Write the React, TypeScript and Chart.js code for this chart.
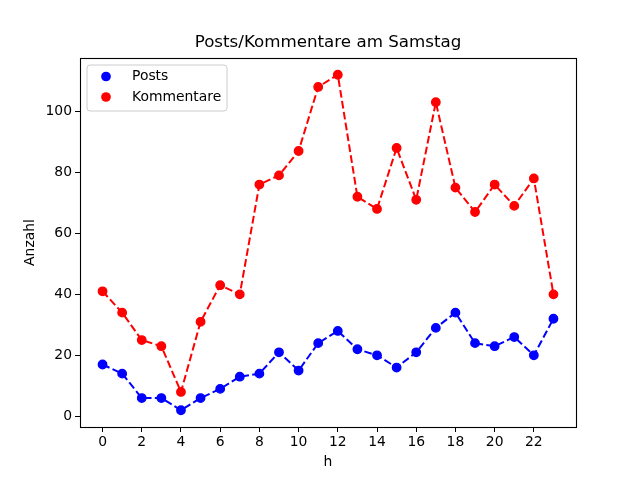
import React, { useEffect, useRef } from "react";
import { Chart, registerables } from "chart.js";

Chart.register(...registerables);

const hours: number[] = [0, 1, 2, 3, 4, 5, 6, 7, 8, 9, 10, 11, 12, 13, 14, 15, 16, 17, 18, 19, 20, 21, 22, 23];
const posts: number[] = [17, 14, 6, 6, 2, 6, 9, 13, 14, 21, 15, 24, 28, 22, 20, 16, 21, 29, 34, 24, 23, 26, 20, 32];
const kommentare: number[] = [41, 34, 25, 23, 8, 31, 43, 40, 76, 79, 87, 108, 112, 72, 68, 88, 71, 103, 75, 67, 76, 69, 78, 40];
const xTicks: number[] = [0, 2, 4, 6, 8, 10, 12, 14, 16, 18, 20, 22];
const yTicks: number[] = [0, 20, 40, 60, 80, 100];

const chartTitle = "Posts/Kommentare am Samstag";
const xLabel = "h";
const yLabel = "Anzahl";
const seriesNames = ["Posts", "Kommentare"];
const seriesColors = ["#0000ff", "#ff0000"];

const FONT = "'DejaVu Sans', sans-serif";

export default function App() {
  const ref = useRef<HTMLCanvasElement | null>(null);

  useEffect(() => {
    if (!ref.current) return;
    const decor = {
      id: "decor",
      beforeDraw(chart: any) {
        const ctx = chart.ctx;
        ctx.save();
        ctx.fillStyle = "#ffffff";
        ctx.fillRect(0, 0, chart.width, chart.height);
        ctx.restore();
      },
      afterDraw(chart: any) {
        const ctx = chart.ctx;
        const a = chart.chartArea;
        ctx.save();
        // frame
        ctx.strokeStyle = "#000000";
        ctx.lineWidth = 1.1;
        ctx.strokeRect(Math.round(a.left) + 0.5, Math.round(a.top) + 0.5, Math.round(a.right - a.left), Math.round(a.bottom - a.top));
        // title
        ctx.fillStyle = "#000000";
        ctx.textAlign = "center";
        ctx.textBaseline = "middle";
        ctx.font = `16.7px ${FONT}`;
        ctx.fillText(chartTitle, (a.left + a.right) / 2, 43);
        // x label
        ctx.font = `13.9px ${FONT}`;
        ctx.fillText(xLabel, (a.left + a.right) / 2, 462);
        // y label
        ctx.save();
        ctx.translate(30, (a.top + a.bottom) / 2);
        ctx.rotate(-Math.PI / 2);
        ctx.fillText(yLabel, 0, 0);
        ctx.restore();
        // legend
        const lx = 87, ly = 65, lw = 140, lh = 46, r = 3;
        ctx.beginPath();
        ctx.moveTo(lx + r, ly);
        ctx.lineTo(lx + lw - r, ly);
        ctx.quadraticCurveTo(lx + lw, ly, lx + lw, ly + r);
        ctx.lineTo(lx + lw, ly + lh - r);
        ctx.quadraticCurveTo(lx + lw, ly + lh, lx + lw - r, ly + lh);
        ctx.lineTo(lx + r, ly + lh);
        ctx.quadraticCurveTo(lx, ly + lh, lx, ly + lh - r);
        ctx.lineTo(lx, ly + r);
        ctx.quadraticCurveTo(lx, ly, lx + r, ly);
        ctx.closePath();
        ctx.fillStyle = "rgba(255,255,255,0.8)";
        ctx.fill();
        ctx.strokeStyle = "#cccccc";
        ctx.lineWidth = 1;
        ctx.stroke();
        const rows = [76.5, 97];
        seriesNames.forEach((name, i) => {
          ctx.beginPath();
          ctx.arc(106, rows[i], 4.85, 0, Math.PI * 2);
          ctx.fillStyle = seriesColors[i];
          ctx.fill();
          ctx.fillStyle = "#000000";
          ctx.textAlign = "left";
          ctx.textBaseline = "middle";
          ctx.font = `13.9px ${FONT}`;
          ctx.fillText(name, 132, rows[i]);
        });
        ctx.restore();
      },
    };

    const mk = (vals: number[], i: number) => ({
      label: seriesNames[i],
      data: hours.map((h, k) => ({ x: h, y: vals[k] })),
      borderColor: seriesColors[i],
      backgroundColor: seriesColors[i],
      pointBackgroundColor: seriesColors[i],
      pointBorderColor: seriesColors[i],
      pointBorderWidth: 1.4,
      pointRadius: 4.2,
      borderWidth: 2,
      borderDash: [7.7, 3.3],
      tension: 0,
      fill: false,
    });

    const chart = new Chart(ref.current, {
      type: "line",
      data: { datasets: [mk(posts, 0), mk(kommentare, 1)] },
      options: {
        animation: false,
        responsive: false,
        devicePixelRatio: 1,
        layout: { padding: { top: 58, right: 64, left: 0, bottom: 0 } },
        plugins: { legend: { display: false }, title: { display: false }, tooltip: { enabled: false } },
        scales: {
          x: {
            type: "linear",
            min: -1.15,
            max: 24.15,
            afterBuildTicks: (s: any) => { s.ticks = xTicks.map((v) => ({ value: v })); },
            afterFit: (s: any) => { s.height = 53; },
            grid: { display: true, drawOnChartArea: false, drawTicks: true, tickLength: 5, tickColor: "#000000", lineWidth: 1 },
            border: { display: false },
            ticks: { color: "#000000", font: { family: FONT, size: 13.9 }, padding: 2, maxRotation: 0, autoSkip: false, callback: (v: any) => String(v) },
          },
          y: {
            type: "linear",
            min: -3.5,
            max: 117.5,
            afterBuildTicks: (s: any) => { s.ticks = yTicks.map((v) => ({ value: v })); },
            afterFit: (s: any) => { s.width = 80; },
            grid: { display: true, drawOnChartArea: false, drawTicks: true, tickLength: 5, tickColor: "#000000", lineWidth: 1 },
            border: { display: false },
            ticks: { color: "#000000", font: { family: FONT, size: 13.9 }, padding: 3, autoSkip: false, callback: (v: any) => String(v) },
          },
        },
      },
      plugins: [decor],
    } as any);
    return () => chart.destroy();
  }, []);

  return (
    <div style={{ position: "absolute", left: 0, top: 0, width: 640, height: 480 }}>
      <canvas ref={ref} width={640} height={480} style={{ width: 640, height: 480, display: "block" }} />
    </div>
  );
}
